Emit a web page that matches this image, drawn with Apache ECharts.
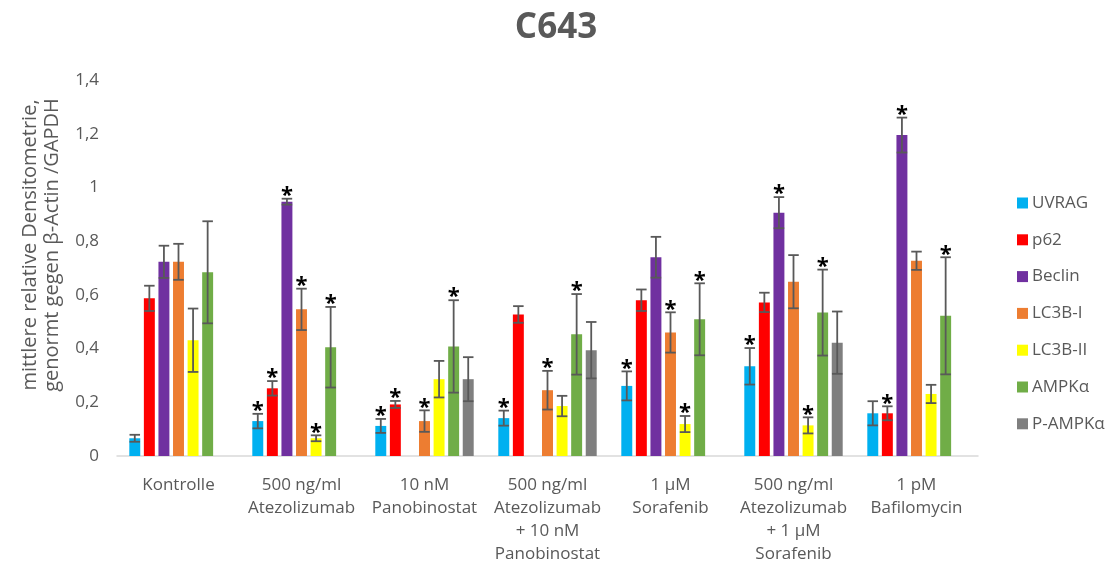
<!DOCTYPE html>
<html>
<head>
<meta charset="utf-8">
<script src="https://cdn.jsdelivr.net/npm/echarts@6/dist/echarts.min.js"></script>
<style>
html,body{margin:0;padding:0;background:#fff;}
#chart{width:1118px;height:569px;}
</style>
</head>
<body>
<div id="chart"></div>
<script>
const categories = ['Kontrolle', '500 ng/ml\nAtezolizumab', '10 nM\nPanobinostat', '500 ng/ml\nAtezolizumab\n+ 10 nM\nPanobinostat', '1 µM\nSorafenib', '500 ng/ml\nAtezolizumab\n+ 1 µM\nSorafenib', '1 pM\nBafilomycin'];
const seriesNames = ['UVRAG', 'p62', 'Beclin', 'LC3B-I', 'LC3B-II', 'AMPKα', 'P-AMPKα'];
const yTicks = [0, 0.2, 0.4, 0.6, 0.8, 1, 1.2, 1.4];

const uvrag     = [0.066, 0.130, 0.112, 0.141, 0.261, 0.334, 0.159];
const uvragErr  = [0.013, 0.027, 0.026, 0.028, 0.054, 0.068, 0.045];
const uvragSig  = [0, 1, 1, 1, 1, 1, 0];

const p62       = [0.587, 0.252, 0.192, 0.527, 0.580, 0.572, 0.159];
const p62Err    = [0.047, 0.027, 0.013, 0.031, 0.040, 0.036, 0.026];
const p62Sig    = [0, 1, 1, 0, 0, 0, 1];

const beclin    = [0.723, 0.947, null, null, 0.740, 0.906, 1.195];
const beclinErr = [0.060, 0.011, null, null, 0.076, 0.058, 0.065];
const beclinSig = [0, 1, 0, 0, 0, 1, 1];

const lc3bI     = [0.723, 0.546, 0.130, 0.245, 0.460, 0.649, 0.727];
const lc3bIErr  = [0.067, 0.077, 0.040, 0.072, 0.075, 0.099, 0.034];
const lc3bISig  = [0, 1, 1, 1, 1, 0, 0];

const lc3bII    = [0.431, 0.066, 0.286, 0.186, 0.119, 0.114, 0.231];
const lc3bIIErr = [0.118, 0.011, 0.068, 0.038, 0.030, 0.030, 0.034];
const lc3bIISig = [0, 1, 0, 0, 1, 1, 0];

const ampk      = [0.684, 0.405, 0.408, 0.453, 0.509, 0.534, 0.522];
const ampkErr   = [0.190, 0.150, 0.172, 0.150, 0.134, 0.160, 0.218];
const ampkSig   = [0, 1, 1, 1, 1, 1, 1];

const pampk     = [null, null, 0.286, 0.394, null, 0.422, null];
const pampkErr  = [null, null, 0.082, 0.105, null, 0.116, null];
const pampkSig  = [0, 0, 0, 0, 0, 0, 0];

const colors = ['#00B0F0', '#FF0000', '#7030A0', '#ED7D31', '#FFFF00', '#70AD47', '#7F7F7F'];
const values = [uvrag, p62, beclin, lc3bI, lc3bII, ampk, pampk];
const errs = [uvragErr, p62Err, beclinErr, lc3bIErr, lc3bIIErr, ampkErr, pampkErr];
const sigs = [uvragSig, p62Sig, beclinSig, lc3bISig, lc3bIISig, ampkSig, pampkSig];

const FONT = 'Open Sans';
const TXT = '#595959';
const CAT_GAP = 0.20, BAR_GAP = 0.33, N = seriesNames.length;

function makeErrRender(si) {
  return function (params, api) {
    const v = api.value(1);
    const e = api.value(2);
    const sig = api.value(3);
    if (v == null || isNaN(v)) return null;
    const band = api.size([1, 0])[0];
    const w = band * (1 - CAT_GAP) / (N + (N - 1) * BAR_GAP);
    const start = -band * (1 - CAT_GAP) / 2;
    const off = start + si * w * (1 + BAR_GAP) + w / 2;
    const c = api.coord([api.value(0), v]);
    const top = api.coord([api.value(0), v + e]);
    const bot = api.coord([api.value(0), v - e]);
    const x = c[0] + off;
    const half = w * 0.48;
    const st = { stroke: '#595959', lineWidth: 1.8 };
    const children = [
      { type: 'line', shape: { x1: x, y1: top[1], x2: x, y2: bot[1] }, style: st },
      { type: 'line', shape: { x1: x - half, y1: top[1], x2: x + half, y2: top[1] }, style: st },
      { type: 'line', shape: { x1: x - half, y1: bot[1], x2: x + half, y2: bot[1] }, style: st }
    ];
    if (sig) {
      children.push({
        type: 'text',
        style: { text: '*', x: x, y: top[1] - 3, textAlign: 'center', textVerticalAlign: 'middle',
          font: 'bold 22px "' + FONT + '"', fill: '#000' }
      });
    }
    return { type: 'group', children: children };
  };
}

const series = [];
seriesNames.forEach(function (name, si) {
  series.push({
    name: name, type: 'bar', data: values[si],
    barCategoryGap: (CAT_GAP * 100) + '%', barGap: (BAR_GAP * 100) + '%',
    itemStyle: { color: colors[si] }
  });
});
seriesNames.forEach(function (name, si) {
  series.push({
    type: 'custom', name: name + '_err', silent: true, z: 5,
    renderItem: makeErrRender(si),
    data: categories.map(function (c, i) { return [i, values[si][i], errs[si][i], sigs[si][i]]; })
  });
});

const chart = echarts.init(document.getElementById('chart'), null, { renderer: 'canvas' });
chart.setOption({
  animation: false,
  backgroundColor: '#fff',
  title: {
    text: 'C643', left: 551, top: 6, textAlign: 'center',
    textStyle: { fontFamily: FONT, fontWeight: 'bold', fontSize: 35, color: TXT }
  },
  legend: {
    orient: 'vertical', left: 1012, top: 189,
    data: seriesNames, icon: 'rect', itemWidth: 11, itemHeight: 11, itemGap: 18.8,
    textStyle: { fontFamily: FONT, fontSize: 17, lineHeight: 18, color: TXT, padding: [0, 0, 0, -1] }
  },
  grid: { left: 117, right: 140, top: 80, bottom: 113 },
  xAxis: {
    type: 'category', data: categories,
    axisLine: { lineStyle: { color: '#D9D9D9', width: 1.5 } },
    axisTick: { show: false },
    axisLabel: { interval: 0, fontFamily: FONT, fontSize: 17, lineHeight: 23, color: TXT, margin: 18 }
  },
  yAxis: {
    type: 'value', min: 0, max: 1.4, interval: 0.2,
    axisLine: { show: false }, axisTick: { show: false }, splitLine: { show: false },
    axisLabel: {
      fontFamily: FONT, fontSize: 17, color: TXT, margin: 18,
      formatter: function (v) {
        const t = yTicks.find(function (k) { return Math.abs(k - v) < 1e-6; });
        return String(t !== undefined ? t : v).replace('.', ',');
      }
    }
  },
  graphic: [{
    type: 'text', x: 41, y: 245, rotation: Math.PI / 2,
    style: {
      text: 'mittlere relative Densitometrie,\ngenormt gegen β-Actin /GAPDH',
      textAlign: 'center', textVerticalAlign: 'middle', lineHeight: 22,
      font: '20px "' + FONT + '"', fill: TXT
    }
  }],
  series: series
});
</script>
</body>
</html>
